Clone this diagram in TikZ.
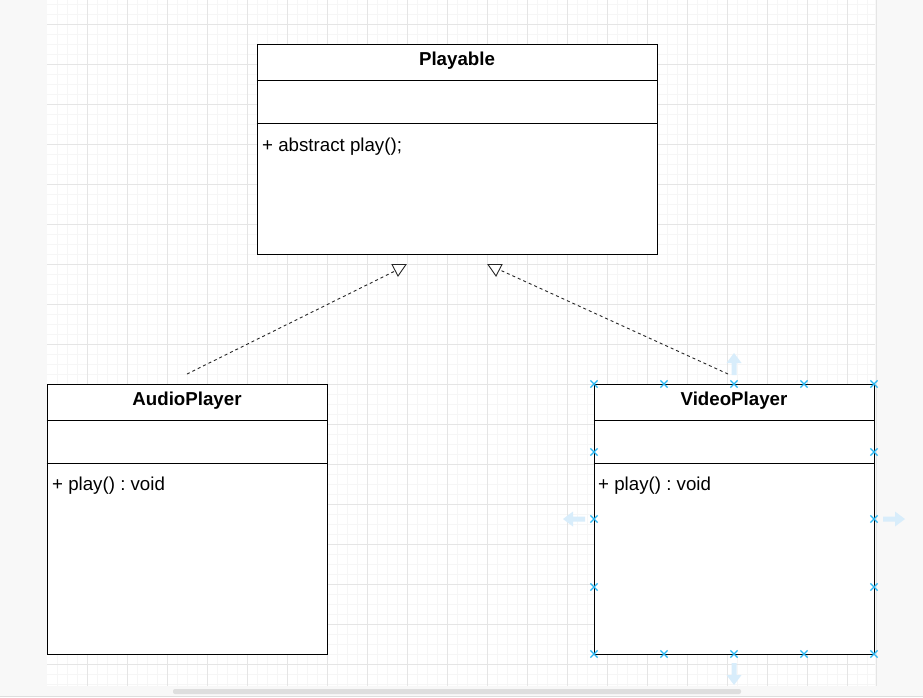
\documentclass[tikz,border=0pt]{standalone}
\usepackage{fontspec}
\setmainfont{Liberation Sans}
\usetikzlibrary{shapes.misc}
\frenchspacing

\definecolor{outside}{HTML}{F8F8F8}
\definecolor{gridminor}{HTML}{F6F6F6}
\definecolor{gridmajor}{HTML}{E5E5E5}
\definecolor{handleblue}{HTML}{29B6F2}
\definecolor{hintblue}{HTML}{D8EDFB}
\definecolor{scrollgray}{HTML}{DEDEDE}

\begin{document}
\begin{tikzpicture}[x=1pt, y=-1pt]

    \tikzset{classbox/.style={draw, fill=white, line width=1pt, inner sep=0pt},
             classtitle/.style={anchor=base, inner sep=0pt, font=\fontsize{18.7}{22}\selectfont\bfseries},
             classmember/.style={anchor=base west, inner sep=0pt, font=\fontsize{18.7}{22}\selectfont},
             realization/.style={draw=black!85, line width=0.9pt, dash pattern=on 3pt off 3pt},
             hollowtip/.style={draw=black!85, fill=white, line width=0.9pt, line join=miter},
             handle/.style={cross out, draw=handleblue, line width=1.2pt, minimum size=6pt, inner sep=0pt},
             minorgrid/.style={draw=gridminor, line width=0.8pt},
             majorgrid/.style={draw=gridmajor, line width=0.9pt}}

    \useasboundingbox (0,0) rectangle (923,697);

    % Fondo y rejilla.
    \fill[outside] (0,0) rectangle (923,697);
    \fill[white] (47,0) rectangle (875,686);
    \foreach \x in {57,67,...,867} \draw[minorgrid] (\x,0) -- (\x,686);
    \foreach \y in {4,14,...,684} \draw[minorgrid] (47,\y) -- (875,\y);
    \foreach \x in {87,127,...,847} \draw[majorgrid] (\x,0) -- (\x,686);
    \foreach \y in {24,64,...,664} \draw[majorgrid] (47,\y) -- (875,\y);
    \draw[gridmajor] (876,0) -- (876,686);
    \fill[scrollgray, rounded corners=2pt] (173,689) rectangle (741,694);
    \draw[scrollgray] (0,696.5) -- (923,696.5);

    % Clases.
    \node[classbox, minimum width=400pt, minimum height=210pt] (playable) at (457,149) {};
    \node[classbox, minimum width=280pt, minimum height=270pt] (audio) at (187,519) {};
    \node[classbox, minimum width=280pt, minimum height=270pt] (video) at (734,519) {};

    \foreach \c in {playable, audio, video} {
        \draw[line width=1pt] ([yshift=-36.5pt]\c.north west) -- ([yshift=-36.5pt]\c.north east);
        \draw[line width=1pt] ([yshift=-79.5pt]\c.north west) -- ([yshift=-79.5pt]\c.north east);
    }

    \node[classtitle] (playabletitle) at (457,65) {Playable};
    \node[classmember] (playableplay) at (262,151) {+ abstract play();};
    \node[classtitle] (audiotitle) at (187,405) {AudioPlayer};
    \node[classmember] (audioplay) at (52,490) {+ play() : void};
    \node[classtitle] (videotitle) at (734,405) {VideoPlayer};
    \node[classmember] (videoplay) at (598,490) {+ play() : void};

    % Realizaciones.
    \coordinate (audiotail) at (187,374);
    \coordinate (audiohead) at (395,271);
    \coordinate (videotail) at (728,374);
    \coordinate (videohead) at (500,270);
    \draw[realization] (audiotail) -- (audiohead);
    \draw[realization] (videotail) -- (videohead);
    \draw[hollowtip] (392,264.5) -- (406,264.5) -- (398,276) -- cycle;
    \draw[hollowtip] (488,264.5) -- (502,264.5) -- (496,276) -- cycle;

    % Seleccion de VideoPlayer.
    \foreach \x in {594,664,734,804,874} {
        \node[handle] at (\x,384) {};
        \node[handle] at (\x,654) {};
    }
    \foreach \y in {452,519,587} {
        \node[handle] at (594,\y) {};
        \node[handle] at (874,\y) {};
    }
    \foreach \px/\py/\r in {734/364/90, 574/519/180, 894/519/0, 734/674/-90}
        \fill[hintblue, shift={(\px,\py)}, rotate=\r]
            (-11,-2.5) -- (1,-2.5) -- (1,-7.5) -- (11,0) -- (1,7.5) -- (1,2.5) -- (-11,2.5) -- cycle;

\end{tikzpicture}
\end{document}
